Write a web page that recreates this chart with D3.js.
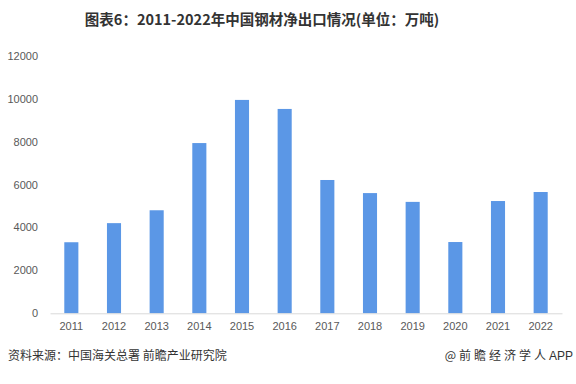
<!DOCTYPE html>
<html><head><meta charset="utf-8">
<script src="https://cdn.jsdelivr.net/npm/d3@7"></script>
<style>body{margin:0;background:#fff}svg{display:block}</style>
</head><body>
<script>
const years = ["2011","2012","2013","2014","2015","2016","2017","2018","2019","2020","2021","2022"];
const netExports = [3310, 4200, 4800, 7930, 9940, 9520, 6210, 5600, 5190, 3320, 5230, 5650];
const yTicks = [0, 2000, 4000, 6000, 8000, 10000, 12000];
const titleText = "图表6：2011-2022年中国钢材净出口情况(单位：万吨)";
const sourceText = "资料来源：中国海关总署 前瞻产业研究院";
const brandCJK = "@前瞻经济学人";
const brandLatin = "APP";

const W = 576, H = 384;
const svg = d3.select("body").append("svg").attr("width", W).attr("height", H);
const font = "'Microsoft YaHei','Noto Sans CJK SC',sans-serif";

const x = d3.scaleBand().domain(years).range([50, 562]).paddingInner(0.67).paddingOuter(0.335);
const y = d3.scaleLinear().domain([0, 12000]).range([313.3, 55.7]);

svg.append("text").attr("x", 262).attr("y", 25).attr("text-anchor", "middle")
  .attr("font-family", font).attr("font-weight", "bold").attr("font-size", 14.5).attr("fill", "#333")
  .text(titleText);

const yAxis = svg.append("g").attr("transform", "translate(50,0)")
  .call(d3.axisLeft(y).tickValues(yTicks).tickSize(0).tickPadding(12).tickFormat(d3.format("d")));
yAxis.select(".domain").remove();
yAxis.selectAll("text").attr("font-family", "Arial, 'Liberation Sans', sans-serif").attr("font-size", 11).attr("fill", "#595959");

svg.selectAll("rect.bar").data(years).enter().append("rect")
  .attr("class", "bar")
  .attr("x", d => x(d)).attr("width", x.bandwidth())
  .attr("y", (d, i) => y(netExports[i]))
  .attr("height", (d, i) => y(0) - y(netExports[i]))
  .attr("fill", "#5b97e6");

const xAxis = svg.append("g").attr("transform", `translate(0,${y(0)})`)
  .call(d3.axisBottom(x).tickSize(0).tickPadding(9));
xAxis.select(".domain").attr("stroke", "#d9d9d9");
xAxis.selectAll("text").attr("font-family", "Arial, 'Liberation Sans', sans-serif").attr("font-size", 11).attr("fill", "#595959");

svg.append("text").attr("x", 8).attr("y", 360)
  .attr("font-family", font).attr("font-size", 12).attr("fill", "#333").text(sourceText);
const brand = svg.append("text").attr("x", 573).attr("y", 360).attr("text-anchor", "end")
  .attr("font-family", font).attr("font-size", 12).attr("fill", "#333");
brand.append("tspan").attr("letter-spacing", 3).text(brandCJK);
brand.append("tspan").attr("font-family", "Arial, 'Liberation Sans', sans-serif").text(brandLatin);
</script>
</body></html>
